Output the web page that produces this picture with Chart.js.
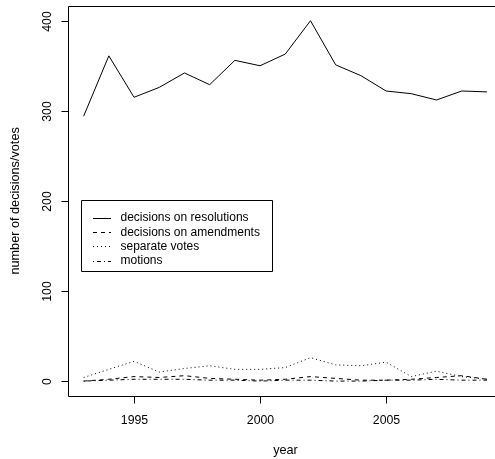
<!DOCTYPE html>
<html>
<head>
<meta charset="utf-8">
<script src="https://cdn.jsdelivr.net/npm/chart.js@4"></script>
<style>
html,body{margin:0;padding:0;background:#fff;overflow:hidden;}
#wrap{width:495px;height:459px;position:relative;}
</style>
</head>
<body>
<div id="wrap"><canvas id="c" width="495" height="459"></canvas></div>
<script>
const years = [1993,1994,1995,1996,1997,1998,1999,2000,2001,2002,2003,2004,2005,2006,2007,2008,2009];
const resolutions = [294,361,315,326,342,329,356,350,363,400,351,339,322,319,312,322,321];
const amendments = [0,2,5,4,6,3,2,1,2,5,3,1,1,2,4,6,2];
const separateVotes = [4,13,22,10,14,17,13,13,15,26,18,17,21,5,11,5,2];
const motions = [0,1,2,2,2,1,1,0,1,1,0,0,1,1,2,1,1];
const seriesLabels = ["decisions on resolutions","decisions on amendments","separate votes","motions"];
const xTicks = [1995,2000,2005];
const yTicks = [0,100,200,300,400];
const xTitle = "year";
const yTitle = "number of decisions/votes";

const FAM = '"Liberation Sans", Arial, Helvetica, sans-serif';

function mk(label, vals, dash){
  return {label, data: years.map((y,i)=>({x:y,y:vals[i]})), borderColor:'#000', borderWidth:1,
    borderDash:dash, pointRadius:0, fill:false, tension:0};
}

const rAxes = {
  id:'rAxes',
  afterDraw(chart){
    const ctx = chart.ctx, ca = chart.chartArea;
    const xs = chart.scales.x, ys = chart.scales.y;
    ctx.save();
    ctx.strokeStyle = '#000'; ctx.lineWidth = 1; ctx.setLineDash([]);
    ctx.beginPath();
    ctx.moveTo(chart.width+2, Math.round(ca.top)+0.5);
    ctx.lineTo(Math.round(ca.left)+0.5, Math.round(ca.top)+0.5);
    ctx.lineTo(Math.round(ca.left)+0.5, Math.round(ca.bottom)+0.5);
    ctx.lineTo(chart.width+2, Math.round(ca.bottom)+0.5);
    ctx.stroke();
    ctx.fillStyle = '#000';
    ctx.font = '12.3px ' + FAM;
    ctx.textAlign='center'; ctx.textBaseline='middle';
    xTicks.forEach(t=>{
      const px = Math.round(xs.getPixelForValue(t))+0.5;
      ctx.beginPath(); ctx.moveTo(px, Math.round(ca.bottom)+0.5); ctx.lineTo(px, Math.round(ca.bottom)+7.5); ctx.stroke();
      ctx.fillText(String(t), px, ca.bottom+25);
    });
    yTicks.forEach(t=>{
      const py = Math.round(ys.getPixelForValue(t))+0.5;
      ctx.beginPath(); ctx.moveTo(Math.round(ca.left)+0.5, py); ctx.lineTo(Math.round(ca.left)-6.5, py); ctx.stroke();
      ctx.save(); ctx.translate(ca.left-20, py); ctx.rotate(-Math.PI/2);
      ctx.fillText(String(t), 0, 0); ctx.restore();
    });
    ctx.font = '12.7px ' + FAM;
    ctx.fillText(xTitle, 285.5, 450);
    ctx.save(); ctx.translate(15, (ca.top+ca.bottom)/2); ctx.rotate(-Math.PI/2);
    ctx.fillText(yTitle, 0, 0); ctx.restore();
    // legend
    const lx = 81.5, ly = 200.5, lw = 191, lh = 71;
    ctx.beginPath(); ctx.rect(lx, ly, lw, lh); ctx.stroke();
    ctx.textAlign='left';
    ctx.font = '12px ' + FAM;
    chart.data.datasets.forEach((ds,i)=>{
      const yy = 218 + i*14.2;
      ctx.setLineDash(ds.borderDash||[]);
      ctx.beginPath(); ctx.moveTo(93, Math.round(yy)+0.5); ctx.lineTo(111, Math.round(yy)+0.5); ctx.stroke();
      ctx.setLineDash([]);
      ctx.fillText(ds.label, 120.5, yy);
    });
    ctx.restore();
  }
};

new Chart(document.getElementById('c'), {
  type:'line',
  data:{datasets:[
    mk(seriesLabels[0], resolutions, []),
    mk(seriesLabels[1], amendments, [4,4]),
    mk(seriesLabels[2], separateVotes, [1,3]),
    mk(seriesLabels[3], motions, [1,3,4,3])
  ]},
  options:{
    responsive:false, animation:false, devicePixelRatio:1,
    layout:{padding:{left:67.5, top:6.3, right:0, bottom:63.5}},
    plugins:{legend:{display:false}, tooltip:{enabled:false}},
    scales:{
      x:{type:'linear', min:1992.36, max:2009.32, display:false},
      y:{type:'linear', min:-16, max:416, display:false}
    }
  },
  plugins:[rAxes]
});
</script>
</body>
</html>
